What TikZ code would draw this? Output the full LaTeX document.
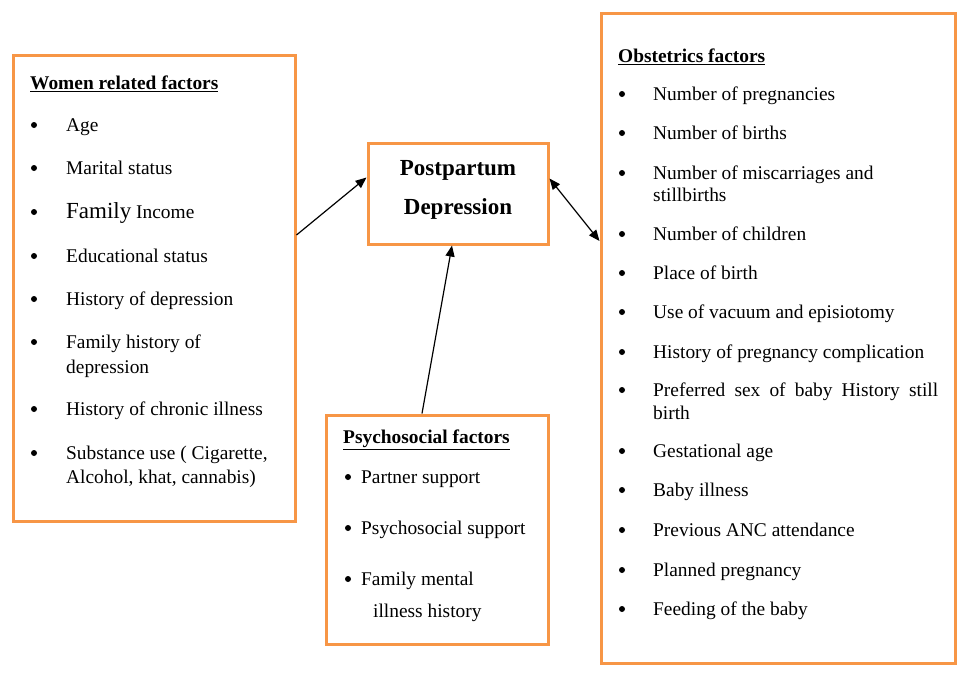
\documentclass[tikz,border=0pt]{standalone}
\usepackage{fontspec}
\setmainfont{Liberation Serif}
\usetikzlibrary{arrows.meta}
\definecolor{boxorange}{RGB}{247,150,70}
\tikzset{
  frame/.style={draw=boxorange, line width=3pt, inner sep=0pt, fill=white},
  txt/.style={anchor=base west, inner sep=0pt, yshift=-6.5pt, font=\fontsize{19.4}{23}\selectfont},
  head/.style={txt, font=\fontsize{19.4}{23}\selectfont\bfseries},
  bul/.style={circle, fill=black, inner sep=0pt, minimum size=6pt},
  ppdtxt/.style={anchor=base, inner sep=0pt, yshift=-8pt, font=\fontsize{23}{27}\selectfont\bfseries},
  conn/.style={line width=1.2pt, draw=black},
  tip/.style={-{Triangle[length=11pt,width=9pt]}},
  dtip/.style={{Triangle[length=11pt,width=9pt]}-{Triangle[length=11pt,width=9pt]}}
}
\begin{document}
\begin{tikzpicture}[x=1pt,y=-1pt]
\useasboundingbox (0,0) rectangle (970,673);
\fill[white] (0,0) rectangle (970,673);
% boxes
\node[frame, minimum width=282pt, minimum height=466pt] (wl) at (154,288) {};
\node[frame, minimum width=354pt, minimum height=650pt] (ob) at (778,338) {};
\node[frame, minimum width=180pt, minimum height=101pt] (ppd) at (458,193.5) {};
\node[frame, minimum width=222pt, minimum height=229pt] (ps) at (437,529.5) {};
% women related factors
\node[head] (wlh) at (30,83) {\underline{Women related factors}};
\foreach \y/\t [count=\i] in {125/Age, 168/Marital status, 256/Educational status, 299/History of depression, 342/Family history of, 409/History of chronic illness, 453/{Substance use ( Cigarette,}}{
  \node[bul] (wlb\i) at (34,\y) {};
  \node[txt] (wlt\i) at (66,\y) {\t};
}
\node[bul] (wlbf) at (34,212) {};
\node[txt] (wltf) at (66,212) {{\fontsize{23}{27}\selectfont Family} Income};
\node[txt] (wlt5b) at (66,367) {depression};
\node[txt] (wlt7b) at (66,477) {Alcohol, khat, cannabis)};
% obstetrics factors
\node[head] (obh) at (618,56) {\underline{Obstetrics factors}};
\foreach \y/\t [count=\i] in {94/Number of pregnancies, 133/Number of births, 173/Number of miscarriages and, 234/Number of children, 273/Place of birth, 312/Use of vacuum and episiotomy, 352/History of pregnancy complication, 451/Gestational age, 490/Baby illness, 530/Previous ANC attendance, 570/Planned pregnancy, 609/Feeding of the baby}{
  \node[bul] (obb\i) at (622,\y) {};
  \node[txt] (obt\i) at (653,\y) {\t};
}
\node[txt] (obt3b) at (653,195) {stillbirths};
\node[bul] (obbp) at (622,390) {};
\node[txt] (obtp) at (653,390) {\hbox to 285pt{Preferred\hfill sex\hfill of\hfill baby\hfill History\hfill still}};
\node[txt] (obtpb) at (653,413) {birth};
% psychosocial
\node[head] (psh) at (343,437) {\underline{Psychosocial factors}};
\foreach \y/\t [count=\i] in {477/Partner support, 528/Psychosocial support, 579/Family mental}{
  \node[bul] (psb\i) at (348,\y) {};
  \node[txt] (pst\i) at (361,\y) {\t};
}
\node[txt] (pst3b) at (373,611) {illness history};
% ppd
\node[ppdtxt] (ppd1) at (458,167) {Postpartum};
\node[ppdtxt] (ppd2) at (458,206) {Depression};
% connectors
\draw[conn, tip] ([yshift=53pt]wl.east) -- ([yshift=16pt]ppd.west);
\draw[conn, dtip] ([yshift=15pt]ppd.east) -- ([yshift=97pt]ob.west);
\draw[conn, tip] ([xshift=-15pt]ps.north) -- ([xshift=-6pt]ppd.south);
\end{tikzpicture}
\end{document}
